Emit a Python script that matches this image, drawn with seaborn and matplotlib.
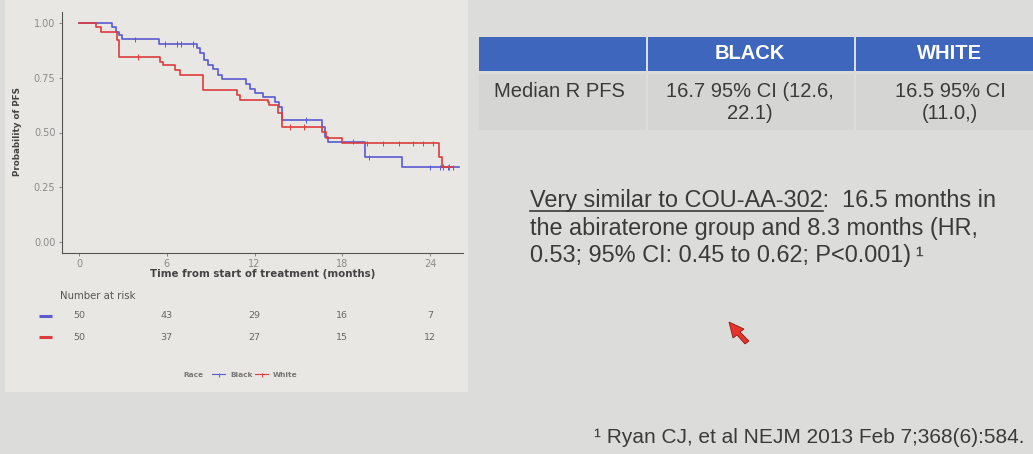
import numpy as np
import pandas as pd
import matplotlib
matplotlib.use("Agg")
import matplotlib.pyplot as plt
import seaborn as sns
from matplotlib.patches import Rectangle, Polygon
from matplotlib.lines import Line2D
from matplotlib.transforms import blended_transform_factory

# ---------------- data ----------------
black_time = [0, 2.23, 2.5, 2.75, 2.95, 5.5, 8.05, 8.3, 8.55, 8.85, 9.15, 9.5, 9.75,
              11.45, 11.7, 12.05, 12.6, 13.4, 13.65, 13.9, 16.59, 16.8, 17.0, 19.55, 22.05, 26.0]
black_surv = [1.0, 0.98, 0.959, 0.944, 0.924, 0.903, 0.883, 0.861, 0.83, 0.807, 0.788, 0.762, 0.744,
              0.721, 0.697, 0.678, 0.663, 0.64, 0.617, 0.557, 0.526, 0.481, 0.458, 0.387, 0.341, 0.341]
white_time = [0, 1.16, 1.5, 2.6, 2.75, 5.54, 5.75, 6.56, 6.9, 8.5, 10.78, 11.0,
              12.9, 13.0, 13.6, 13.9, 16.59, 16.9, 17.95, 24.63, 24.8, 25.6]
white_surv = [1.0, 0.98, 0.959, 0.92, 0.845, 0.822, 0.807, 0.785, 0.76, 0.693, 0.671, 0.648,
              0.637, 0.625, 0.587, 0.526, 0.504, 0.473, 0.45, 0.39, 0.344, 0.344]
black_censor = [3.8, 5.9, 6.7, 7.0, 7.8, 15.5, 18.7, 19.8, 24.0, 24.7, 25.2, 25.6]
white_censor = [4.05, 14.4, 15.4, 19.7, 20.8, 21.9, 22.8, 23.5, 24.2, 24.9, 25.3]

groups = ["Black", "White"]
risk_times = [0, 6, 12, 18, 24]
risk_black = [50, 43, 29, 16, 7]
risk_white = [50, 37, 27, 15, 12]

x_ticks = [0, 6, 12, 18, 24]
y_ticks = [0.0, 0.25, 0.5, 0.75, 1.0]

table_cols = ["", "BLACK", "WHITE"]
table_row = ["Median R PFS", "16.7 95% CI (12.6,\n22.1)", "16.5 95% CI\n(11.0,)"]

para_underlined = "Very similar to COU-AA-302"
para_lines = ["Very similar to COU-AA-302:  16.5 months in",
              "the abiraterone group and 8.3 months (HR,",
              "0.53; 95% CI: 0.45 to 0.62; P<0.001)\u2009\u00b9"]
footnote = "\u00b9 Ryan CJ, et al NEJM 2013 Feb 7;368(6):584."

# ---------------- helpers ----------------
W, H = 1033, 454
def fx(px): return px / W
def fy(py): return 1 - py / H

colors = {"Black": "#5a5ad2", "White": "#dc3c3c"}

km = pd.concat([
    pd.DataFrame({"time": black_time, "surv": black_surv, "Race": "Black"}),
    pd.DataFrame({"time": white_time, "surv": white_surv, "Race": "White"}),
], ignore_index=True)

def step_value(times, survs, t):
    i = np.searchsorted(times, t, side="right") - 1
    return survs[i]

cens = pd.concat([
    pd.DataFrame({"time": black_censor,
                  "surv": [step_value(black_time, black_surv, t) for t in black_censor],
                  "Race": "Black"}),
    pd.DataFrame({"time": white_censor,
                  "surv": [step_value(white_time, white_surv, t) for t in white_censor],
                  "Race": "White"}),
], ignore_index=True)

# ---------------- figure ----------------
fig = plt.figure(figsize=(W / 100, H / 100), dpi=100)
fig.patch.set_facecolor("#dcdddb")
fig.patches.append(Rectangle((fx(5), fy(392)), fx(468) - fx(5), fy(0) - fy(392),
                             transform=fig.transFigure, facecolor="#e8e7e3",
                             edgecolor="none", zorder=-5))

ax = fig.add_axes([fx(61.7), fy(253), fx(463) - fx(61.7), fy(12) - fy(253)])
ax.set_facecolor("none")
ax.set_zorder(2)

sns.lineplot(data=km, x="time", y="surv", hue="Race", palette=colors, estimator=None,
             sort=False, drawstyle="steps-post", linewidth=1.2, legend=False, ax=ax)
sns.scatterplot(data=cens, x="time", y="surv", hue="Race", palette=colors, marker="|",
                s=16, linewidth=0.7, legend=False, ax=ax)

ax.set_xlim(-1.18, 26.25)
ax.set_ylim(-0.049, 1.049)
ax.set_xticks(x_ticks)
ax.set_xticklabels([str(v) for v in x_ticks])
ax.set_yticks(y_ticks)
ax.set_yticklabels([f"{v:.2f}" for v in y_ticks])
for s in ["top", "right"]:
    ax.spines[s].set_visible(False)
for s in ["left", "bottom"]:
    ax.spines[s].set_color("#555555")
    ax.spines[s].set_linewidth(0.8)
ax.tick_params(axis="both", colors="#777777", labelsize=7, length=2.5, width=0.6,
               pad=2, labelcolor="#8a8a8a")
ax.set_xlabel("Time from start of treatment (months)", fontsize=7.4, fontweight="bold",
              color="#444444", labelpad=0)
ax.set_ylabel("")
fig.text(fx(17.5), fy(132), "Probability of PFS", rotation=90, fontsize=6.3,
         fontweight="bold", color="#444444", ha="center", va="center")

# number at risk
tr = blended_transform_factory(ax.transData, fig.transFigure)
fig.text(fx(60), fy(295.7), "Number at risk", fontsize=7.3, color="#555555",
         ha="left", va="center")
for row_y, vals, g in [(315.7, risk_black, "Black"), (337.3, risk_white, "White")]:
    fig.lines.append(Line2D([fx(39), fx(52)], [fy(row_y), fy(row_y)], transform=fig.transFigure,
                            color=colors[g], linewidth=2.2, solid_capstyle="butt"))
    for t, v in zip(risk_times, vals):
        fig.text(t, fy(row_y), str(v), transform=tr, fontsize=6.8, color="#666666",
                 ha="center", va="center")

# legend
fig.text(fx(183), fy(375), "Race", fontsize=5.3, fontweight="bold", color="#777777",
         ha="left", va="center")
leg_items = [(212, 230, "Black"), (255, 273, "White")]
for lx, tx, g in leg_items:
    fig.lines.append(Line2D([fx(lx), fx(lx + 13)], [fy(373.5), fy(373.5)],
                            transform=fig.transFigure, color=colors[g], linewidth=0.8))
    fig.lines.append(Line2D([fx(lx + 6.5)], [fy(375)], transform=fig.transFigure,
                            color=colors[g], marker="|", markersize=3.5, markeredgewidth=0.7))
    fig.text(fx(tx), fy(375), g, fontsize=5.3, fontweight="bold", color="#777777",
             ha="left", va="center")

# ---------------- table ----------------
slide_font = "Liberation Sans"
col_edges = [(479, 645.5), (648, 853.5), (856, 1040)]
col_centers = [494, 750, 950]
header_top, header_bot = 36.7, 71
row_top, row_bot = 74, 130
for (x0, x1), cx, head, cell in zip(col_edges, col_centers, table_cols, table_row):
    fig.patches.append(Rectangle((fx(x0), fy(header_bot)), fx(x1) - fx(x0),
                                 fy(header_top) - fy(header_bot), transform=fig.transFigure,
                                 facecolor="#3e66bd", edgecolor="none"))
    fig.patches.append(Rectangle((fx(x0), fy(row_bot)), fx(x1) - fx(x0),
                                 fy(row_top) - fy(row_bot), transform=fig.transFigure,
                                 facecolor="#d5d5d4", edgecolor="none"))
    if head:
        fig.text(fx(cx), fy(53.5), head, fontsize=14.5, fontweight="bold", color="white",
                 family=slide_font, ha="center", va="center")
        fig.text(fx(cx), fy(102.5), cell, fontsize=14.5, color="#3a3a3a",
                 family=slide_font, ha="center", va="center", linespacing=1.15)
    else:
        fig.text(fx(cx), fy(91.5), cell, fontsize=14.5, color="#3a3a3a",
                 family=slide_font, ha="left", va="center")

# ---------------- paragraph ----------------
line_y = [207, 235, 262]
para_size = 16.9
for ly, txt in zip(line_y, para_lines):
    fig.text(fx(530), fy(ly), txt, fontsize=para_size, color="#3a3a3a", family=slide_font,
             ha="left", va="baseline")
meas = fig.text(fx(530), fy(207), para_underlined, fontsize=para_size, color="none",
                family=slide_font, ha="left", va="baseline")
fig.canvas.draw()
bb = meas.get_window_extent(renderer=fig.canvas.get_renderer())
meas.remove()
fig.lines.append(Line2D([bb.x0 / W, bb.x1 / W], [fy(210.5), fy(210.5)], transform=fig.transFigure,
                        color="#3a3a3a", linewidth=1.2))

fig.text(fx(1025), fy(443), footnote, fontsize=15, color="#3a3a3a", family=slide_font,
         ha="right", va="baseline")

# cursor artifact
fig.patches.append(Polygon([(fx(729), fy(322)), (fx(744), fy(329)), (fx(740), fy(332)),
                            (fx(749), fy(341)), (fx(745), fy(344)), (fx(737), fy(335)),
                            (fx(733), fy(338))], closed=True, transform=fig.transFigure,
                           facecolor="#e8332a", edgecolor="#8a1d18", linewidth=0.6))

fig.savefig("out.png", dpi=100, facecolor=fig.get_facecolor())
